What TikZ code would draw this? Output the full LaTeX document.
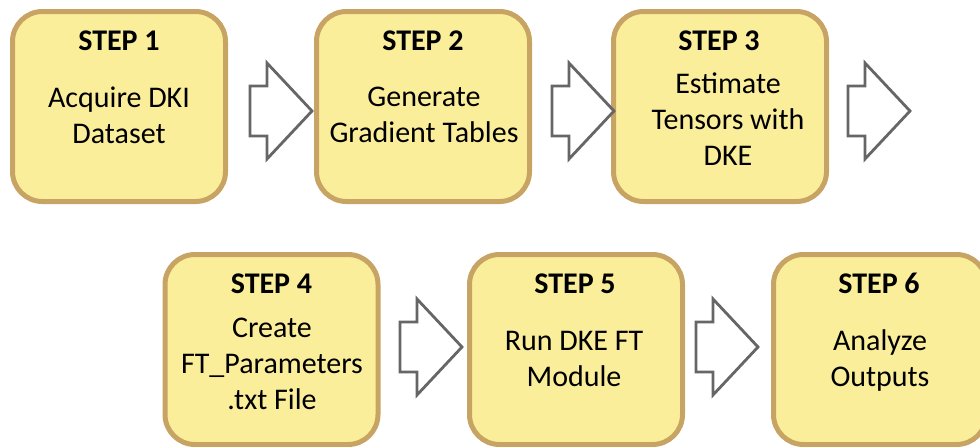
\documentclass[tikz,border=0pt]{standalone}
\usepackage{fontspec}
\setmainfont{Carlito}
\definecolor{boxfill}{RGB}{251,238,155}
\definecolor{boxline}{RGB}{200,164,100}
\definecolor{arrline}{RGB}{102,102,102}
\tikzset{
  stepbox/.style={draw=boxline, fill=boxfill, line width=5pt, rounded corners=30pt,
    minimum width=213pt, minimum height=190pt, inner sep=0pt},
  steptitle/.style={font=\fontsize{30}{36}\selectfont\bfseries, anchor=base, inner sep=0pt},
  stepbody/.style={font=\fontsize{30}{36}\selectfont, anchor=north, inner sep=0pt, align=center},
  blockarrow/.pic={\draw[arrline, line width=2.8pt, fill=white, line join=miter]
    (0,-25) -- (17,-25) -- (17,-48) -- (62,0) -- (17,48) -- (17,25) -- (0,25) -- cycle;}
}
\begin{document}
\begin{tikzpicture}[x=1pt,y=-1pt]
\useasboundingbox (0,0) rectangle (980,447);
% boxes
\node[stepbox] (b1) at (119,106.5) {};
\node[stepbox] (b2) at (423,106.5) {};
\node[stepbox] (b3) at (720,106.5) {};
\node[stepbox] (b4) at (271.5,349.5) {};
\node[stepbox] (b5) at (576,349.5) {};
\node[stepbox] (b6) at (880,349.5) {};
% titles
\node[steptitle] (t1) at (119,50) {STEP 1};
\node[steptitle] (t2) at (423,50) {STEP 2};
\node[steptitle] (t3) at (719,50) {STEP 3};
\node[steptitle] (t4) at (271.5,293) {STEP 4};
\node[steptitle] (t5) at (575,293) {STEP 5};
\node[steptitle] (t6) at (879,293) {STEP 6};
% bodies (north = first baseline - 25.2)
\node[stepbody] (d1) at (119,81.8) {\strut Acquire DKI\\\strut Dataset};
\node[stepbody] (d2) at (424,80.8) {\strut Generate\\\strut Gradient Tables};
\node[stepbody] (d3) at (728,67.8) {\strut Estimate\\\strut Tensors with\\\strut DKE};
\node[stepbody] (d4) at (272,311.8) {\strut Create\\\strut FT\_Parameters\\\strut .txt File};
\node[stepbody] (d5) at (574,324.8) {\strut Run DKE FT\\\strut Module};
\node[stepbody] (d6) at (880,324.8) {\strut Analyze\\\strut Outputs};
% block arrows
\pic at (250,111) {blockarrow};
\pic at (552,111) {blockarrow};
\pic at (848,111) {blockarrow};
\pic at (400,347) {blockarrow};
\pic at (696,347) {blockarrow};
\end{tikzpicture}
\end{document}
